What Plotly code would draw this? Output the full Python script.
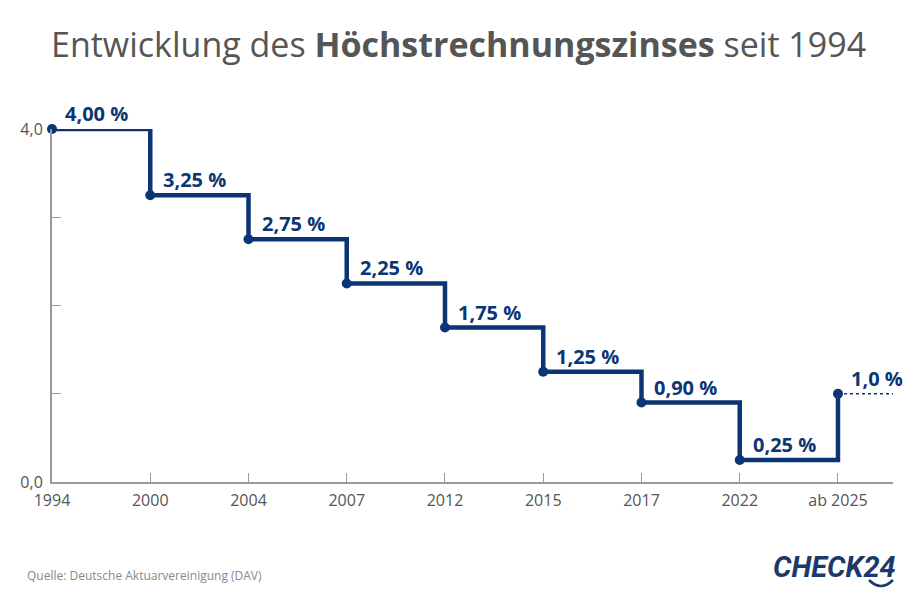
import plotly.graph_objects as go

# Data
year_labels = ["1994", "2000", "2004", "2007", "2012", "2015", "2017", "2022", "ab 2025"]
rates = [4.00, 3.25, 2.75, 2.25, 1.75, 1.25, 0.90, 0.25, 1.0]
rate_labels = ["4,00 %", "3,25 %", "2,75 %", "2,25 %", "1,75 %", "1,25 %", "0,90 %", "0,25 %", "1,0 %"]
y_tick_vals = [0, 1, 2, 3, 4]
y_tick_text = ["0,0", "", "", "", "4,0"]

NAVY = "#0b3574"
GRAY_TXT = "#555555"
AXIS = "#9a9a9a"
X_END = 8.56

xs = list(range(len(year_labels)))

fig = go.Figure()
fig.add_trace(go.Scatter(
    x=xs, y=rates, mode="lines+markers",
    line=dict(color=NAVY, width=4.5, shape="hv"),
    marker=dict(color=NAVY, size=10),
    cliponaxis=False, hoverinfo="skip", showlegend=False,
))

# dotted continuation after last value
fig.add_shape(type="line", xref="x", yref="y",
              x0=xs[-1], x1=X_END, y0=rates[-1], y1=rates[-1],
              line=dict(color=NAVY, width=1.5, dash="dot"))

annos = []
for x, y, t in zip(xs, rates, rate_labels):
    annos.append(dict(x=x, y=y, text="<b>" + t + "</b>", showarrow=False,
                      xanchor="left", yanchor="bottom", xshift=11, yshift=0,
                      font=dict(family="Open Sans", size=20, color=NAVY)))

fig.update_xaxes(range=[0, X_END], tickvals=xs, ticktext=year_labels, automargin=False,
                 showgrid=False, zeroline=False, showline=True, linecolor=AXIS, linewidth=2,
                 ticks="inside", ticklen=9, tickcolor=AXIS, tickwidth=1, ticklabelstandoff=3,
                 tickfont=dict(family="Open Sans", size=16, color=GRAY_TXT))
fig.update_yaxes(range=[0, 4], tickvals=y_tick_vals, ticktext=y_tick_text, automargin=False,
                 showgrid=False, zeroline=False, showline=True, linecolor=AXIS, linewidth=2,
                 ticks="inside", ticklen=9, tickcolor=AXIS, tickwidth=1, ticklabelstandoff=4,
                 tickfont=dict(family="Open Sans", size=16, color=GRAY_TXT))

annos += [
    dict(xref="paper", yref="paper", x=0.483, y=1, yshift=85, xanchor="center", yanchor="middle",
         text="Entwicklung des <b>Höchstrechnungszinses</b> seit 1994", showarrow=False,
         font=dict(family="Open Sans", size=34, color=GRAY_TXT)),
    dict(xref="paper", yref="paper", x=-0.032, y=0, yshift=-93, xanchor="left", yanchor="middle",
         text="Quelle: Deutsche Aktuarvereinigung (DAV)", showarrow=False,
         font=dict(family="Open Sans", size=12, color="#888888")),
    dict(xref="paper", yref="paper", x=1.006, y=0, yshift=-85, xanchor="right", yanchor="middle",
         text="<b><i>CHECK24</i></b>", showarrow=False,
         font=dict(family="Roboto", size=29, color="#1b3a6b")),
]

# small smile under the logo's "24"
def px(xp):
    return (xp - 52) / 841
def py(yp):
    return (482 - yp) / 353
fig.add_shape(type="path", xref="paper", yref="paper",
              path=f"M {px(869)},{py(580)} Q {px(881)},{py(592)} {px(893)},{py(580)}",
              line=dict(color="#1b3a6b", width=2.5))

# page body has an 8px margin: figure spans screen 8..920 x 8..600
fig.update_layout(
    width=912, height=592,
    margin=dict(l=44, r=27, t=121, b=118),
    paper_bgcolor="white", plot_bgcolor="white",
    annotations=annos,
)

fig.write_html("out.html")
